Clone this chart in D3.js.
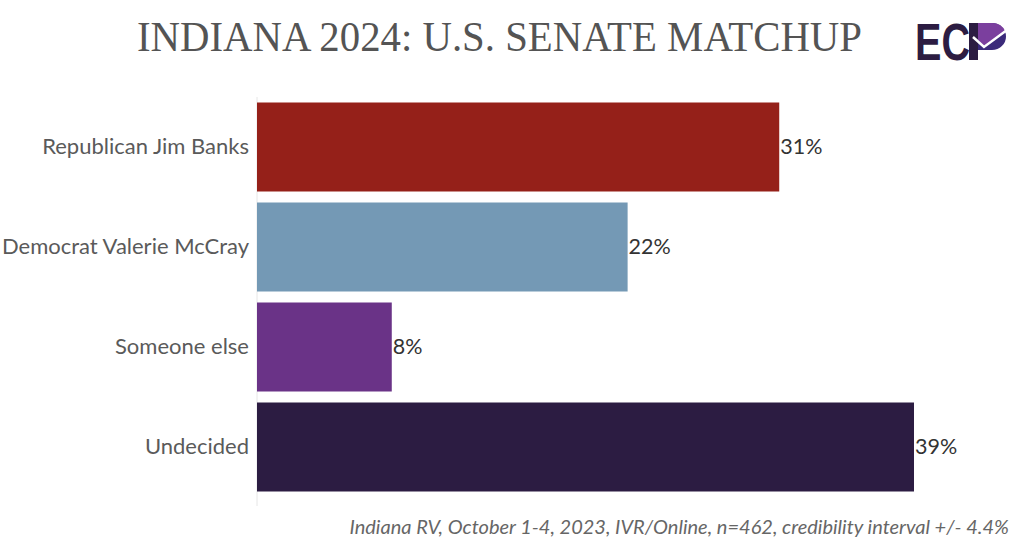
<!DOCTYPE html>
<html><head><meta charset="utf-8">
<script src="https://cdn.jsdelivr.net/npm/d3@7"></script>
<style>body{margin:0;background:#fff}svg{display:block}</style>
</head><body>
<svg id="c" width="1024" height="559"></svg>
<script>
const categories = ["Republican Jim Banks","Democrat Valerie McCray","Someone else","Undecided"];
const values = [31,22,8,39];
const colors = ["#952019","#7499b5","#6a3387","#2c1c42"];
const title = "INDIANA 2024: U.S. SENATE MATCHUP";
const footnote = "Indiana RV, October 1-4, 2023, IVR/Online, n=462, credibility interval +/- 4.4%";

const svg = d3.select("#c");
const x = d3.scaleLinear().domain([0,39]).range([257,914]);
const y = d3.scaleBand().domain(categories).range([97,497]).paddingInner(0.11).paddingOuter(0.055);

svg.append("text").attr("x",137).attr("y",51)
  .attr("font-family","Liberation Serif, serif").attr("font-size",42).attr("fill","#545454")
  .attr("textLength",725).attr("lengthAdjust","spacingAndGlyphs")
  .text(title);

// faint axis line
svg.append("line").attr("x1",257).attr("x2",257).attr("y1",97).attr("y2",506)
  .attr("stroke","#e6e6e6").attr("stroke-width",1);

svg.selectAll("rect.bar").data(values).join("rect").attr("class","bar")
  .attr("x",x(0)).attr("y",(d,i)=>y(categories[i]))
  .attr("width",d=>x(d)-x(0)).attr("height",y.bandwidth())
  .attr("fill",(d,i)=>colors[i]);

svg.selectAll("text.val").data(values).join("text").attr("class","val")
  .attr("x",d=>x(d)+1).attr("y",(d,i)=>y(categories[i])+y.bandwidth()/2+7)
  .attr("font-family","Lato, sans-serif").attr("font-size",21.5).attr("fill","#333")
  .text(d=>d+"%");

svg.selectAll("text.cat").data(categories).join("text").attr("class","cat")
  .attr("x",249).attr("y",d=>y(d)+y.bandwidth()/2+7).attr("text-anchor","end")
  .attr("font-family","Lato, sans-serif").attr("font-size",22).attr("fill","#5a5a5a")
  .text(d=>d);

svg.append("text").attr("x",1009).attr("y",534).attr("text-anchor","end")
  .attr("font-family","Lato, sans-serif").attr("font-style","italic").attr("font-size",20).attr("fill","#666")
  .text(footnote);

// logo
const g = svg.append("g");
g.append("text").attr("x",915).attr("y",60).attr("font-family","Liberation Sans, sans-serif")
  .attr("font-weight","bold").attr("font-size",51).attr("fill","#2c1c42").attr("textLength",55)
  .attr("lengthAdjust","spacingAndGlyphs").text("EC");
g.append("rect").attr("x",969).attr("y",23).attr("width",9).attr("height",37).attr("fill","#2c1c42");
g.append("path").attr("d","M978,23 L992,23 A14,13.5 0 0 1 992,50 L978,50 Z").attr("fill","#3b2a7a");
g.append("path").attr("d","M978,23 L992,23 A14,13.5 0 0 1 1005,31 L984,46 L978,40 Z").attr("fill","#7b3f9e");
g.append("polyline").attr("points","973,37 984,47 1007,30").attr("fill","none")
  .attr("stroke","#fff").attr("stroke-width",2.5);
</script>
</body></html>
